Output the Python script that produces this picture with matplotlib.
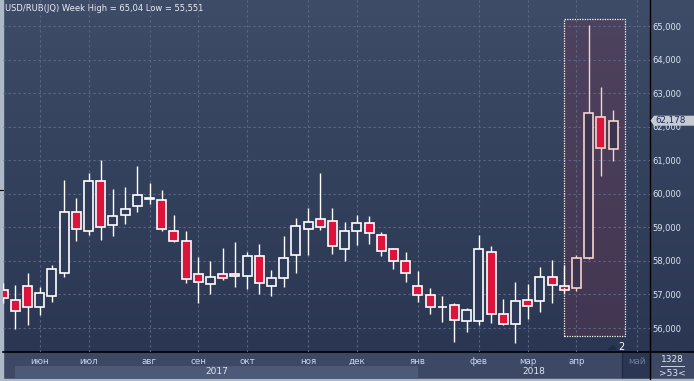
import matplotlib
matplotlib.use('Agg')
import matplotlib.pyplot as plt
import numpy as np
from matplotlib.patches import Rectangle, Polygon
import matplotlib.transforms as mtransforms

# ---------------- data (weekly USD/RUB candles) ----------------
opens  = [57.12, 56.83, 57.24, 56.62, 56.95, 57.63, 59.45, 58.88, 60.37, 59.06,
          59.36, 59.63, 59.84, 59.82, 58.88, 58.58, 57.60, 57.30, 57.60, 57.60,
          57.56, 58.14, 57.24, 57.48, 58.17, 58.94, 59.24, 59.18, 58.35, 58.88,
          59.12, 58.76, 58.35, 57.99, 57.24, 56.98, 56.62, 56.68, 56.20, 56.20,
          58.26, 56.41, 56.11, 56.83, 56.80, 57.51, 57.24, 57.18, 58.08, 62.28,
          61.33]
highs  = [57.35, 57.28, 57.64, 57.22, 57.88, 60.41, 59.87, 60.62, 61.01, 60.13,
          60.20, 60.83, 60.32, 60.10, 59.37, 58.88, 58.12, 58.00, 58.38, 58.56,
          58.27, 58.50, 57.73, 58.73, 59.28, 59.58, 60.62, 59.58, 59.16, 59.37,
          59.34, 58.86, 58.38, 58.28, 57.69, 57.18, 56.95, 56.74, 56.59, 58.77,
          58.44, 56.86, 57.37, 57.31, 57.82, 58.03, 57.87, 58.18, 65.04, 63.18,
          62.50]
lows   = [56.75, 55.97, 56.10, 56.40, 56.78, 57.53, 58.60, 58.78, 58.63, 58.75,
          59.11, 59.45, 59.69, 58.88, 58.55, 57.35, 56.76, 57.02, 57.42, 57.23,
          57.17, 57.02, 56.96, 57.23, 57.65, 58.18, 58.93, 58.22, 58.01, 58.48,
          58.51, 58.16, 57.77, 57.38, 56.79, 56.41, 56.19, 55.58, 55.87, 56.09,
          56.15, 56.08, 55.551, 56.26, 56.47, 56.74, 57.05, 57.10, 58.05, 60.54,
          60.99]
closes = [56.89, 56.50, 56.62, 57.03, 57.75, 59.45, 58.94, 60.37, 59.00, 59.33,
          59.54, 59.96, 59.87, 58.94, 58.58, 57.45, 57.36, 57.51, 57.48, 57.54,
          58.14, 57.33, 57.48, 58.08, 59.03, 59.15, 59.00, 58.44, 58.88, 59.12,
          58.82, 58.29, 57.99, 57.63, 56.98, 56.62, 56.64, 56.24, 56.53, 58.35,
          56.41, 56.11, 56.80, 56.65, 57.51, 57.27, 57.12, 58.08, 62.40, 61.36,
          62.178]

month_labels = ['июн', 'июл', 'авг', 'сен', 'окт', 'ноя', 'дек', 'янв',
                'фев', 'мар', 'апр', 'май']
month_index = [3, 7, 12, 16, 20, 25, 29, 34, 39, 43, 47, 52]
year_labels = ['2017', '2018']
year_start = [1, 34]
year_end = [34, 53.03]
y_ticks = [56, 57, 58, 59, 60, 61, 62, 63, 64, 65]
title = "USD/RUB(JQ) Week High = 65,04 Low = 55,551"

# highlighted range
hl_start, hl_end = 46, 51
hl_low, hl_high = 55.77, 65.2
hl_candles = [47, 48, 49, 50]

# ---------------- figure ----------------
W, H = 694, 381
PLOT_BOTTOM = 352
PLOT_RIGHT = 650
fig = plt.figure(figsize=(W / 100, H / 100), dpi=100)
fig.patch.set_facecolor('#3c4864')

bg = fig.add_axes([0, 0, 1, 1], zorder=0)
g = np.linspace(0, 1, 256)[:, None, None]
top = np.array([62, 76, 104]) / 255
bot = np.array([42, 54, 82]) / 255
img = top[None, None, :] * (1 - g) + bot[None, None, :] * g
bg.imshow(img, extent=(0, W, PLOT_BOTTOM, 0), aspect='auto', interpolation='bilinear')
bg.set_xlim(0, W)
bg.set_ylim(H, 0)
bg.axis('off')

# bottom axis row
bg.add_patch(Rectangle((0, PLOT_BOTTOM), W, H - PLOT_BOTTOM, color='#3c4864', zorder=1))
# left / bottom light border
bg.add_patch(Rectangle((0, 0), 3, H, color='#aeb9c8', zorder=3))
bg.add_patch(Rectangle((0, H - 2), W, 2, color='#aeb9c8', zorder=3))
bg.plot([0, 3], [190, 190], color='black', lw=0.8, zorder=4)
# separators
bg.plot([3, W], [PLOT_BOTTOM, PLOT_BOTTOM], color='black', lw=1.2, zorder=4)
bg.plot([PLOT_RIGHT, PLOT_RIGHT], [0, H - 2], color='black', lw=1.0, zorder=4)
# "май" shaded box
bg.add_patch(Rectangle((622.5, PLOT_BOTTOM + 1), PLOT_RIGHT - 622.5, H - PLOT_BOTTOM - 3,
                       color='#2b3653', zorder=2))
bg.plot([622.5, 622.5], [PLOT_BOTTOM + 1, H - 2], color='#1f2840', lw=0.8, zorder=2)
# right-bottom counters
bg.text(672, 360, '1328', fontsize=6.5, color='#dfe7f1', ha='center', va='center', zorder=5)
bg.plot([661, 684], [366, 366], color='#c8d4e0', lw=0.7, zorder=5)
bg.text(672, 373, '>53<', fontsize=6.5, color='#dfe7f1', ha='center', va='center', zorder=5)
# title
bg.text(5, 8.5, title, fontsize=6.0, color='#e8eef6', ha='left', va='center', zorder=5)
# little marker near bottom
bg.add_patch(Polygon([(608.5, 349.5), (616.5, 349.5), (612.5, 345.5)], color='#1f2a44', zorder=5))
bg.text(621.5, 346.5, '2', fontsize=7, color='white', ha='center', va='center', zorder=5)

# ---------------- main axes ----------------
ax = fig.add_axes([3 / W, (H - PLOT_BOTTOM) / H, (PLOT_RIGHT - 3) / W, PLOT_BOTTOM / H], zorder=1)
ax.patch.set_alpha(0)
ax.set_xlim(-0.01, 53.03)
ax.set_ylim(55.286, 65.775)
for s in ax.spines.values():
    s.set_visible(False)
ax.set_xticks([])
ax.yaxis.tick_right()
ax.set_yticks(y_ticks)
ax.set_yticklabels([f"{v:.3f}".replace('.', ',') for v in y_ticks])
ax.tick_params(axis='y', length=0, pad=1.6, labelsize=6.0, labelcolor='#dce6f2')

grid_kw = dict(color='#5b6886', lw=0.8, ls=(0, (2, 2.5)), zorder=0.8)
for v in y_ticks:
    ax.axhline(v, **grid_kw)
for m in month_index:
    ax.axvline(m, **grid_kw)

# highlight box
ax.add_patch(Rectangle((hl_start, hl_low), hl_end - hl_start, hl_high - hl_low,
                       facecolor='#6a3550', alpha=0.38, edgecolor='none', zorder=0.5))
ax.add_patch(Rectangle((hl_start, hl_low), hl_end - hl_start, hl_high - hl_low,
                       fill=False, edgecolor='white', lw=0.9, ls=(0, (1, 1)), zorder=3))

# candles
bw = 0.74
for i, (o, h, l, c) in enumerate(zip(opens, highs, lows, closes)):
    inbox = i in hl_candles
    edge = '#f6d4cc' if inbox else 'white'
    down = c < o
    face = '#dc143c' if down else ('#3a3450' if inbox else '#2d3a58')
    ax.vlines(i, l, h, color=edge, lw=1.0, zorder=2)
    lo, hi = min(o, c), max(o, c)
    ht = max(hi - lo, 0.02)
    ax.add_patch(Rectangle((i - bw / 2, lo), bw, ht, facecolor=face, edgecolor=edge,
                           lw=1.2, zorder=2.2))

# last-price marker
trans = mtransforms.blended_transform_factory(ax.transAxes, ax.transData)
px = 1 / (PLOT_RIGHT - 3)
last = closes[-1]
dy = 5 / (PLOT_BOTTOM / (65.775 - 55.286))
ax.add_patch(Polygon([(1 + 0.5 * px, last), (1 + 4 * px, last + dy), (1 + 44 * px, last + dy),
                      (1 + 44 * px, last - dy), (1 + 4 * px, last - dy)],
                     transform=trans, clip_on=False, facecolor='#c6cad2', edgecolor='none', zorder=5))
ax.text(1 + 5 * px, last, f"{last:.3f}".replace('.', ','), transform=trans, fontsize=6.3,
        color='#1b2c5c', ha='left', va='center', clip_on=False, zorder=6)

# month and year labels under the plot
xt = ax.get_xaxis_transform()
def yfrac(py):
    return (PLOT_BOTTOM - py) / PLOT_BOTTOM

for lab, m in zip(month_labels, month_index):
    col = '#6f7d95' if lab == 'май' else '#c4d6ea'
    ax.text(m, yfrac(361), lab, transform=xt, fontsize=6.3, color=col,
            ha='center', va='center', clip_on=False, zorder=6)

ax.add_patch(Rectangle((year_start[0], yfrac(378.5)), year_end[0] - year_start[0],
                       yfrac(366) - yfrac(378.5), transform=xt, clip_on=False,
                       facecolor='#4c5a77', edgecolor='none', zorder=0.1))
for lab, s, e in zip(year_labels, year_start, year_end):
    ax.text((s + e) / 2, yfrac(372), lab, transform=xt, fontsize=6.5, color='#dde6f0',
            ha='center', va='center', clip_on=False, zorder=6)

fig.savefig('out.png', dpi=100, facecolor=fig.get_facecolor())
